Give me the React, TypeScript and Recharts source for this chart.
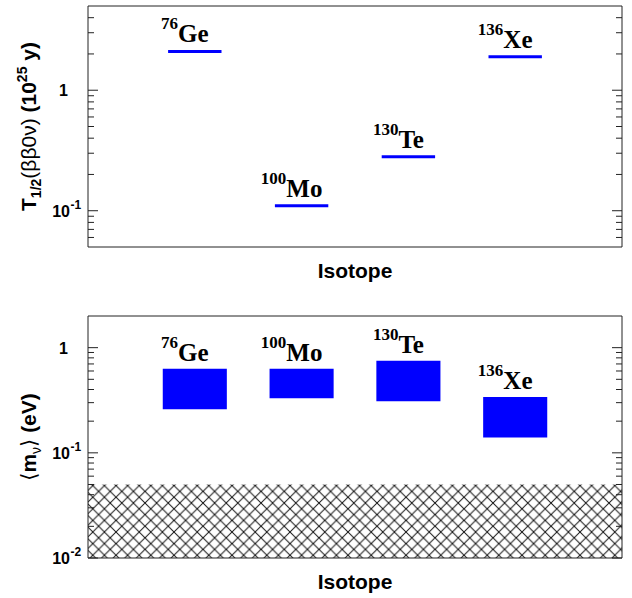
import React from "react";
import {
  ComposedChart,
  XAxis,
  YAxis,
  ReferenceLine,
  ReferenceArea,
  Scatter,
} from "recharts";

// isotopes, in plotting order
const isotopeSymbols = ["Ge", "Mo", "Te", "Xe"];
const massNumbers = ["76", "100", "130", "136"];
const isotopePositions = [1, 2, 3, 4];

// top panel: half-life limits, units of 1e25 y
const halfLifeLimits = [2.1, 0.11, 0.28, 1.9];

// bottom panel: effective mass ranges (eV)
const massLower = [0.26, 0.33, 0.31, 0.14];
const massUpper = [0.63, 0.63, 0.75, 0.34];
const hatchRange = [0.01, 0.05];

// axes
const xDomain = [0, 5];
const topDomain = [0.05, 5];
const bottomDomain = [0.01, 2];
const topMajorTicks = [0.1, 1];
const topMinorTicks = [0.06, 0.07, 0.08, 0.09, 0.2, 0.3, 0.4, 0.5, 0.6, 0.7, 0.8, 0.9, 2, 3, 4];
const bottomMajorTicks = [0.01, 0.1, 1];
const bottomMinorTicks = [
  0.02, 0.03, 0.04, 0.05, 0.06, 0.07, 0.08, 0.09,
  0.2, 0.3, 0.4, 0.5, 0.6, 0.7, 0.8, 0.9,
];

const SANS = "'Liberation Sans', Arial, 'DejaVu Sans', sans-serif";
const SERIF = "'Liberation Serif', 'Times New Roman', 'DejaVu Serif', serif";
const FRAME = "#222";
const BLUE = "#0000ff";

const isMajor = (v: number, majors: number[]) =>
  majors.some((m) => Math.abs(m - v) < 1e-9);

function tickText(v: number) {
  const exp = Math.round(Math.log10(v));
  if (exp === 0) return { base: "1", sup: "" };
  return { base: "10", sup: String(exp) };
}

function makeLeftTick(majors: number[]) {
  return (props: any) => {
    const { x, y, payload } = props;
    const v = payload.value;
    const major = isMajor(v, majors);
    const t = tickText(v);
    return (
      <g>
        <line x1={x} x2={x + (major ? 10 : 6)} y1={y} y2={y} stroke={FRAME} />
        {major && (
          <text
            x={t.sup ? x - 18 : x - 20}
            y={y + 6}
            textAnchor="end"
            style={{ fontFamily: SANS, fontWeight: 700, fontSize: 16 }}
            fill="#000"
          >
            {t.base}
          </text>
        )}
        {major && t.sup && (
          <text
            x={x - 17.5}
            y={y - 2}
            textAnchor="start"
            style={{ fontFamily: SANS, fontWeight: 700, fontSize: 12 }}
            fill="#000"
          >
            {t.sup}
          </text>
        )}
      </g>
    );
  };
}

function makeRightTick(majors: number[]) {
  return (props: any) => {
    const { x, y, payload } = props;
    const major = isMajor(payload.value, majors);
    return <line x1={x} x2={x - (major ? 10 : 6)} y1={y} y2={y} stroke={FRAME} />;
  };
}

const IsotopeLabel = (props: any) => {
  const { cx, cy, payload } = props;
  if (cx == null || cy == null) return null;
  return (
    <text
      x={cx - 10}
      y={cy - payload.gap}
      textAnchor="middle"
      style={{ fontFamily: SERIF, fontWeight: 700 }}
      fill="#000"
    >
      <tspan fontSize={17} dy={-13}>
        {payload.mass}
      </tspan>
      <tspan fontSize={25} dy={13}>
        {payload.sym}
      </tspan>
    </text>
  );
};

const xTitle = (props: any) => {
  const vb = props.viewBox;
  return (
    <text
      x={vb.x + vb.width / 2}
      y={vb.y + 31}
      textAnchor="middle"
      style={{ fontFamily: SANS, fontWeight: 700, fontSize: 21 }}
      fill="#000"
    >
      Isotope
    </text>
  );
};

const topYTitle = (props: any) => {
  const vb = props.viewBox;
  const cy = vb.y + vb.height / 2;
  return (
    <text
      transform={`translate(36, ${cy}) rotate(-90)`}
      textAnchor="middle"
      style={{ fontFamily: SANS, fontWeight: 700, fontSize: 21 }}
      fill="#000"
    >
      <tspan>T</tspan>
      <tspan fontSize={14} dy={5}>1/2</tspan>
      <tspan fontWeight="normal" dy={-5}>(ββ0ν)</tspan>
      <tspan> (10</tspan>
      <tspan fontSize={14} dy={-9}>25</tspan>
      <tspan dy={9}> y)</tspan>
    </text>
  );
};

const bottomYTitle = (props: any) => {
  const vb = props.viewBox;
  const cy = vb.y + vb.height / 2;
  return (
    <text
      transform={`translate(36, ${cy}) rotate(-90)`}
      textAnchor="middle"
      style={{ fontFamily: SANS, fontWeight: 700, fontSize: 21 }}
      fill="#000"
    >
      <tspan fontWeight="normal">⟨</tspan>
      <tspan>m</tspan>
      <tspan fontWeight="normal" fontSize={14} dy={5}>ν</tspan>
      <tspan fontWeight="normal" dy={-5}>⟩</tspan>
      <tspan>  (eV)</tspan>
    </text>
  );
};

const topLabels = isotopePositions.map((x, i) => ({
  x,
  y: halfLifeLimits[i],
  mass: massNumbers[i],
  sym: isotopeSymbols[i],
  gap: 9,
}));

const bottomLabels = isotopePositions.map((x, i) => ({
  x,
  y: massUpper[i],
  mass: massNumbers[i],
  sym: isotopeSymbols[i],
  gap: 8,
}));

// shared frame: bottom/top x axes without ticks, log y axes with inward ticks on both sides
function axes(domain: number[], majors: number[], minors: number[], title: any, topH: number, bottomH: number) {
  const ticks = [...majors, ...minors].sort((a, b) => a - b);
  return [
    <XAxis
      key="xb"
      xAxisId="b"
      dataKey="x"
      type="number"
      domain={xDomain}
      allowDataOverflow
      tick={false}
      tickLine={false}
      axisLine={{ stroke: FRAME }}
      height={bottomH}
      label={xTitle}
    />,
    <XAxis
      key="xt"
      xAxisId="t"
      orientation="top"
      type="number"
      domain={xDomain}
      allowDataOverflow
      tick={false}
      tickLine={false}
      axisLine={{ stroke: FRAME }}
      height={topH}
    />,
    <YAxis
      key="yl"
      yAxisId="l"
      dataKey="y"
      type="number"
      scale="log"
      domain={domain}
      allowDataOverflow
      ticks={ticks}
      interval={0}
      tickSize={0}
      tickMargin={0}
      tickLine={false}
      tick={makeLeftTick(majors)}
      axisLine={{ stroke: FRAME }}
      width={88}
      label={title}
    />,
    <YAxis
      key="yr"
      yAxisId="r"
      orientation="right"
      type="number"
      scale="log"
      domain={domain}
      allowDataOverflow
      ticks={ticks}
      interval={0}
      tickSize={0}
      tickMargin={0}
      tickLine={false}
      tick={makeRightTick(majors)}
      axisLine={{ stroke: FRAME }}
      width={10}
    />,
  ];
}

export default function App() {
  return (
    <div style={{ position: "absolute", left: 0, top: 0, width: 632, height: 598, background: "#fff" }}>
      <svg width={0} height={0} style={{ position: "absolute" }}>
        <defs>
          <pattern id="xhatch" width={11.6} height={11.6} patternUnits="userSpaceOnUse">
            <path d="M0,0 L11.6,11.6 M11.6,0 L0,11.6" stroke="#111" strokeWidth={1} />
          </pattern>
        </defs>
      </svg>

      <div style={{ position: "absolute", left: 0, top: 0 }}>
        <ComposedChart width={632} height={300} margin={{ top: 0, right: 0, bottom: 0, left: 0 }}>
          {axes(topDomain, topMajorTicks, topMinorTicks, topYTitle, 6, 53)}
          {isotopePositions.map((x, i) => (
            <ReferenceLine
              key={isotopeSymbols[i]}
              xAxisId="b"
              yAxisId="l"
              segment={[
                { x: x - 0.25, y: halfLifeLimits[i] },
                { x: x + 0.25, y: halfLifeLimits[i] },
              ]}
              stroke={BLUE}
              strokeWidth={3}
            />
          ))}
          <Scatter
            xAxisId="b"
            yAxisId="l"
            data={topLabels}
            dataKey="y"
            shape={IsotopeLabel}
            isAnimationActive={false}
          />
        </ComposedChart>
      </div>

      <div style={{ position: "absolute", left: 0, top: 300 }}>
        <ComposedChart width={632} height={298} margin={{ top: 0, right: 0, bottom: 0, left: 0 }}>
          {axes(bottomDomain, bottomMajorTicks, bottomMinorTicks, bottomYTitle, 16, 40)}
          <ReferenceArea
            xAxisId="b"
            yAxisId="l"
            x1={xDomain[0]}
            x2={xDomain[1]}
            y1={hatchRange[0]}
            y2={hatchRange[1]}
            fill="url(#xhatch)"
            fillOpacity={1}
            stroke="none"
          />
          {isotopePositions.map((x, i) => (
            <ReferenceArea
              key={isotopeSymbols[i]}
              xAxisId="b"
              yAxisId="l"
              x1={x - 0.3}
              x2={x + 0.3}
              y1={massLower[i]}
              y2={massUpper[i]}
              fill={BLUE}
              fillOpacity={1}
              stroke="none"
            />
          ))}
          <Scatter
            xAxisId="b"
            yAxisId="l"
            data={bottomLabels}
            dataKey="y"
            shape={IsotopeLabel}
            isAnimationActive={false}
          />
        </ComposedChart>
      </div>
    </div>
  );
}
